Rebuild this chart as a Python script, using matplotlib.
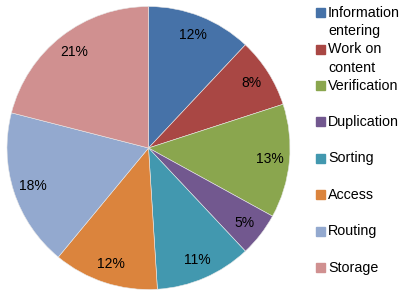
import matplotlib.pyplot as plt
from matplotlib.patches import Rectangle

labels = ["Information\nentering", "Work on\ncontent", "Verification", "Duplication",
          "Sorting", "Access", "Routing", "Storage"]
shares = [12, 8, 13, 5, 11, 12, 18, 21]
colors = ["#4672A8", "#A94744", "#8AA64E", "#72588F",
          "#4298AF", "#DB843D", "#93A9CF", "#D09090"]

plt.rcParams['font.family'] = ['Liberation Sans', 'DejaVu Sans']

W, H = 410, 292
fig = plt.figure(figsize=(W / 100, H / 100), dpi=100)

# pie: center (148.5, 148), radius 141.5 px
cx, cy, r = 148.5, 148, 141.5
ax = fig.add_axes([(cx - r) / W, (H - cy - r) / H, 2 * r / W, 2 * r / H])
ax.pie(shares, colors=colors, startangle=90, counterclock=False,
       autopct='%d%%', pctdistance=0.86,
       textprops={'fontsize': 10, 'color': 'black'},
       wedgeprops={'linewidth': 0.4, 'edgecolor': '#e8e8e8'})
ax.set_xlim(-1, 1)
ax.set_ylim(-1, 1)
ax.set_aspect('auto')
ax.axis('off')

# legend drawn by hand so the square sits by the first line
for i, (lab, col) in enumerate(zip(labels, colors)):
    yc = 12.8 + 36.4 * i
    fig.patches.append(Rectangle((316 / W, 1 - (yc + 4.5) / H), 9 / W, 9 / H,
                                 transform=fig.transFigure, color=col))
    for j, line in enumerate(lab.split("\n")):
        fig.text(328 / W, 1 - (yc + 18.5 * j) / H, line, fontsize=10.3,
                 va='center', ha='left')

fig.savefig("out.png", dpi=100)
